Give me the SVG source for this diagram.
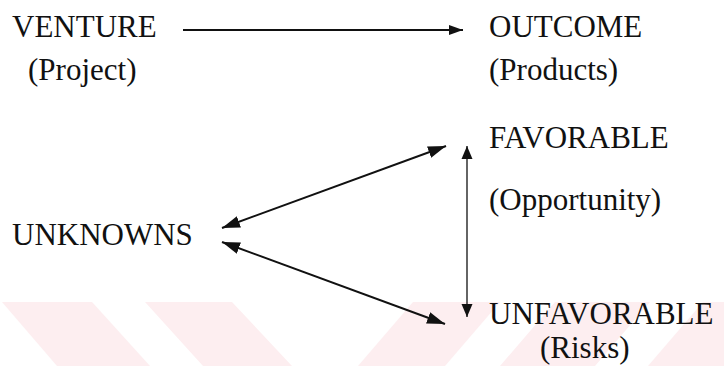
<svg xmlns="http://www.w3.org/2000/svg" width="724" height="366" viewBox="0 0 724 366">
<style>
  .t { font-family: "Liberation Serif", "Times New Roman", serif; font-size: 31px; fill: #111; }
  .c { stroke: #111; fill: none; }
  .wm { fill: #fdeef0; }
</style>
<defs>
  <marker id="ah" markerUnits="userSpaceOnUse" markerWidth="20" markerHeight="14" refX="18" refY="7" orient="auto-start-reverse">
    <path d="M0,1 L18,7 L0,13 Z" fill="#111"/>
  </marker>
  <marker id="ahs" markerUnits="userSpaceOnUse" markerWidth="16" markerHeight="12" refX="14" refY="6" orient="auto-start-reverse">
    <path d="M0,1 L14,6 L0,11 Z" fill="#111"/>
  </marker>
  <marker id="ahv" markerUnits="userSpaceOnUse" markerWidth="16" markerHeight="12" refX="13" refY="6" orient="auto-start-reverse">
    <path d="M0,0.5 L13,6 L0,11.5 Z" fill="#111"/>
  </marker>
</defs>
<g id="watermark">
  <polygon class="wm" points="2,302 92,302 150,366 57,366"/>
  <polygon class="wm" points="145,302 232,302 292,366 203,366"/>
  <polygon class="wm" points="413,302 500,302 445,366 358,366"/>
  <polygon class="wm" points="555,302 650,302 595,366 500,366"/>
  <polygon class="wm" points="703,302 724,302 724,366 648,366"/>
</g>
<g id="connectors">
  <line class="c" x1="183" y1="30" x2="463" y2="30" stroke-width="2" marker-end="url(#ahs)"/>
  <line class="c" x1="222" y1="228" x2="446" y2="146" stroke-width="2" marker-start="url(#ah)" marker-end="url(#ah)"/>
  <line class="c" x1="222" y1="242" x2="445" y2="324" stroke-width="2" marker-start="url(#ah)" marker-end="url(#ah)"/>
  <line class="c" x1="467" y1="146" x2="467" y2="317" stroke-width="1.3" marker-start="url(#ahv)" marker-end="url(#ahv)"/>
</g>
<g id="venture">
  <text class="t" x="12" y="37">VENTURE</text>
  <text class="t" x="28" y="80">(Project)</text>
</g>
<g id="outcome">
  <text class="t" x="489" y="37">OUTCOME</text>
  <text class="t" x="489" y="80">(Products)</text>
</g>
<g id="favorable">
  <text class="t" x="489" y="148">FAVORABLE</text>
  <text class="t" x="489" y="210">(Opportunity)</text>
</g>
<g id="unknowns">
  <text class="t" x="12" y="245">UNKNOWNS</text>
</g>
<g id="unfavorable">
  <text class="t" x="489" y="324">UNFAVORABLE</text>
  <text class="t" x="540" y="358">(Risks)</text>
</g>
</svg>
